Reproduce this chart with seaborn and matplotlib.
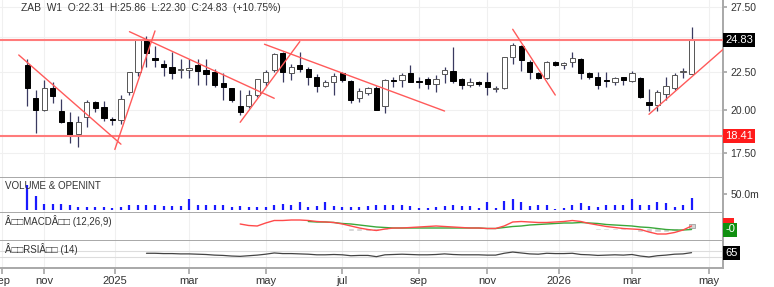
import numpy as np
import pandas as pd
import matplotlib
matplotlib.use("Agg")
import matplotlib.pyplot as plt
import matplotlib.dates as mdates
import matplotlib.ticker as mticker
import matplotlib.transforms as mtransforms
import seaborn as sns

sns.set_theme(style="white")
plt.rcParams['font.family'] = ['Liberation Sans', 'DejaVu Sans']

# ---------------- data ----------------
first_week = "2024-10-21"
opens = [22.96, 20.70, 19.97, 21.35, 19.91, 19.26, 18.55, 19.55, 20.49, 20.17,
         19.40, 19.36, 21.10, 22.50, 24.78, 23.45, 23.00, 22.83, 22.60, 22.60,
         22.96, 22.60, 22.50, 21.70, 21.36, 20.22, 20.22, 20.92, 21.78, 22.60,
         23.80, 22.40, 22.96, 22.70, 22.10, 21.50, 21.75, 22.38, 21.85, 20.72,
         21.05, 21.36, 20.22, 21.90, 21.92, 22.38, 21.88, 22.00, 21.65, 22.33,
         22.56, 22.00, 21.58, 21.75, 21.80, 21.30, 21.38, 23.50, 24.33, 23.20,
         22.40, 22.05, 23.20, 22.96, 23.20, 23.37, 22.38, 22.15, 21.90, 21.75,
         22.10, 21.85, 22.05, 20.50, 20.28, 21.00, 21.38, 22.45, 22.31]
highs = [23.39, 21.25, 21.92, 21.80, 20.64, 19.86, 19.60, 20.60, 20.54, 20.54,
         19.55, 20.92, 22.50, 24.85, 25.10, 24.35, 23.32, 23.90, 23.37, 23.40,
         23.37, 23.37, 22.65, 22.38, 21.40, 21.25, 21.25, 22.00, 22.60, 23.85,
         23.90, 23.05, 23.90, 22.80, 22.30, 21.95, 22.38, 22.50, 21.92, 21.40,
         21.48, 21.50, 21.97, 22.10, 22.38, 22.96, 22.15, 22.10, 22.26, 22.80,
         24.30, 22.05, 22.05, 21.85, 22.48, 21.50, 23.55, 24.55, 24.43, 23.32,
         22.45, 23.25, 23.25, 23.20, 23.90, 23.45, 22.50, 22.45, 22.50, 22.15,
         22.15, 22.55, 22.10, 21.30, 21.25, 22.10, 22.40, 22.75, 25.86]
lows = [20.22, 18.60, 19.90, 20.40, 19.20, 18.04, 17.80, 18.93, 19.86, 19.30,
        19.07, 19.13, 20.95, 22.20, 22.80, 22.80, 22.20, 21.99, 22.05, 22.05,
        21.58, 21.58, 21.48, 20.60, 20.50, 19.67, 20.10, 20.80, 21.50, 22.45,
        21.80, 21.92, 22.48, 21.58, 21.13, 21.45, 20.92, 21.80, 20.40, 20.50,
        20.92, 19.95, 19.78, 21.45, 21.45, 21.75, 21.36, 21.30, 21.13, 21.70,
        21.70, 21.30, 21.45, 21.50, 20.92, 21.13, 21.30, 23.00, 22.56, 21.97,
        21.97, 22.00, 22.90, 22.70, 22.80, 21.97, 21.97, 21.30, 21.48, 21.60,
        21.58, 21.75, 20.72, 19.93, 19.93, 20.60, 21.25, 22.05, 22.30]
closes = [21.38, 19.97, 21.40, 20.88, 19.26, 18.43, 19.26, 20.49, 20.07, 19.49,
          19.36, 20.66, 22.45, 24.78, 23.85, 23.32, 22.83, 22.40, 22.68, 22.78,
          22.56, 22.30, 21.58, 21.48, 20.57, 19.86, 20.90, 21.97, 22.50, 23.75,
          22.48, 22.80, 22.65, 22.15, 21.50, 21.80, 22.20, 21.92, 20.60, 21.20,
          21.35, 20.00, 21.92, 21.85, 22.26, 21.80, 21.75, 21.65, 22.00, 22.60,
          21.85, 21.58, 21.80, 21.65, 21.48, 21.36, 23.50, 24.43, 23.28, 22.48,
          22.05, 23.20, 22.96, 23.10, 23.45, 22.38, 22.15, 21.58, 21.85, 22.05,
          21.92, 22.38, 20.77, 20.28, 21.13, 21.50, 22.26, 22.52, 24.83]
volume_m = [78, 42, 18, 18, 19, 15, 10, 10, 10, 10,
            5, 10, 14, 16, 16, 16, 12, 12, 12, 33,
            16, 14, 14, 14, 10, 12, 8, 10, 10, 16,
            18, 14, 26, 10, 12, 24, 12, 10, 10, 10,
            12, 14, 16,
            16, 16, 12, 7, 5, 10, 12, 16, 12, 12,
            7, 26, 7, 29, 34, 26, 12, 14, 14, 4,
            6, 14, 21, 12, 10, 14, 14, 14, 34, 14,
            16, 26, 21, 10, 14, 37]
macd = [0.08, 0.05, 0.04, 0.10, 0.15, 0.15, 0.16, 0.16, 0.15, 0.13,
        0.12, 0.11, 0.08, 0.04, 0.00, -0.03, -0.05, -0.02, 0.00, 0.00,
        0.01, 0.02, 0.03, 0.04, 0.03, 0.02, 0.01, 0.00, 0.00, -0.01,
        -0.01, 0.04, 0.12, 0.13, 0.12, 0.11, 0.11, 0.12, 0.13, 0.15,
        0.13, 0.09, 0.06, 0.03, 0.01, -0.01, -0.02, -0.03, -0.08, -0.12,
        -0.12, -0.09, -0.04, 0.04]
macd_signal = [0.13, 0.12, 0.12, 0.11, 0.09, 0.08, 0.06, 0.04, 0.02, 0.01,
               0.00, 0.00, 0.00, 0.00, 0.00, 0.00, 0.00, 0.00, 0.00, 0.00,
               0.00, -0.01, -0.01, 0.01, 0.03, 0.04, 0.06, 0.07, 0.08, 0.09,
               0.10, 0.10, 0.11, 0.10, 0.09, 0.07, 0.06, 0.05, 0.04, 0.02,
               0.01, -0.01, -0.03, -0.04, -0.04, -0.03]
macd_hist = [0.00, -0.02, -0.02, -0.02, -0.02, -0.05, -0.05, -0.05, -0.05, -0.03,
             0, 0, 0, 0, 0, 0, 0, 0, 0, 0, 0, 0, 0,
             0.02, 0.02, 0.02, 0.02, 0.02, 0.02, 0.02, 0.02, 0.02, 0.02,
             0.00, -0.03, -0.03, -0.03, -0.03, -0.02,
             -0.07, -0.08, -0.08, -0.07, -0.05, -0.02, 0.09]
rsi = [63, 63, 62, 62, 61, 61, 60, 59, 57, 56,
       54, 53, 55, 57, 60, 64, 62, 62, 61, 60,
       58, 58, 59, 58, 55, 56, 56, 52, 58, 59,
       60, 59, 58, 58, 59, 61, 59, 58, 58, 58,
       57, 57, 63, 67, 64, 61, 60, 63, 62, 62,
       63, 59, 58, 56, 57, 58, 57, 59, 54, 51,
       55, 57, 60, 61, 65]
level_lines = [24.83, 18.41]
trend_lines = [
    ("2024-10-14", 23.68, "2025-01-06", 17.97),
    ("2025-01-01", 17.68, "2025-02-03", 25.51),
    ("2025-01-13", 25.45, "2025-05-12", 20.71),
    ("2025-04-14", 19.23, "2025-06-02", 24.68),
    ("2025-05-04", 24.48, "2025-09-29", 19.91),
    ("2025-11-24", 25.64, "2025-12-29", 20.92),
    ("2026-03-16", 19.71, "2026-05-16", 24.10),
]
price_ticks = [17.5, 20.0, 22.5, 27.5]
tick_dates = ["2024-09-30", "2024-11-04", "2025-01-01", "2025-03-03", "2025-05-05",
              "2025-07-07", "2025-09-08", "2025-11-03", "2026-01-01", "2026-03-02",
              "2026-05-04"]
tick_labels = ["sep", "nov", "2025", "mar", "may", "jul", "sep", "nov", "2026", "mar", "may"]
title_text = "ZAB  W1  O:22.31  H:25.86  L:22.30  C:24.83  (+10.75%)"

# ---------------- build ----------------
dates = pd.date_range(first_week, periods=len(opens), freq="7D")
xd = mdates.date2num(dates)
df = pd.DataFrame({"x": xd, "open": opens, "high": highs, "low": lows,
                   "close": closes, "vol": volume_m})

W, H = 774, 287
RIGHT = 723.3
def rect(top, bottom):
    return [0, 1 - bottom / H, RIGHT / W, (bottom - top) / H]

fig = plt.figure(figsize=(W / 100, H / 100), dpi=100)
ax_p = fig.add_axes(rect(0, 177.5))
ax_v = fig.add_axes(rect(177.5, 213.3), sharex=ax_p)
ax_m = fig.add_axes(rect(213.3, 241), sharex=ax_p)
ax_r = fig.add_axes(rect(241, 267.7), sharex=ax_p)

SPINE = "#a8a8a8"
TXT = "#333333"
GRID = "#f0f0f0"
WICK = "#3a3a60"

for ax in (ax_p, ax_v, ax_m, ax_r):
    ax.set_facecolor("white")
    for s in ("top", "left"):
        ax.spines[s].set_visible(False)
    for s in ("right", "bottom"):
        ax.spines[s].set_color(SPINE)
        ax.spines[s].set_linewidth(1.4)
    ax.yaxis.tick_right()
    ax.tick_params(axis="y", which="both", direction="out", length=3, color=SPINE,
                   labelsize=7.5, labelcolor=TXT, pad=2, left=False, labelleft=False,
                   right=True, labelright=True)
    ax.tick_params(axis="x", which="both", bottom=False, labelbottom=False)

xdates_ticks = mdates.date2num(pd.to_datetime(tick_dates))
x0 = xd[0] - 22.4
x1 = xd[0] + 572.1

# ---- price panel ----
ax_p.set_yscale("log")
ax_p.set_ylim(16.21, 28.07)
for p in price_ticks + [25.0]:
    ax_p.axhline(p, color=GRID, lw=0.8, zorder=0)

ax_p.vlines(df.x, df.low, df.high, color=WICK, lw=0.9, zorder=2)
up = df.close >= df.open
body_h = (df.close - df.open).abs().clip(lower=0.03)
ax_p.bar(df.x[up], body_h[up], bottom=df.open[up], width=4.3, color="white",
         edgecolor="#555555", linewidth=0.7, zorder=3)
ax_p.bar(df.x[~up], body_h[~up], bottom=df.close[~up], width=4.3, color="black",
         edgecolor="black", linewidth=0.7, zorder=3)

for lv in level_lines:
    ax_p.axhline(lv, color="#ff7b7b", lw=1.5, zorder=4)
for d0, p0, d1, p1 in trend_lines:
    sns.lineplot(x=mdates.date2num(pd.to_datetime([d0, d1])), y=[p0, p1], ax=ax_p,
                 color="#ff5a5a", lw=1.0, zorder=5)

ax_p.yaxis.set_major_locator(mticker.FixedLocator(price_ticks))
ax_p.yaxis.set_minor_locator(mticker.NullLocator())
ax_p.yaxis.set_major_formatter(mticker.FormatStrFormatter("%.2f"))
ax_p.text(20.7 / RIGHT, 1 - 8 / 177.5, title_text, transform=ax_p.transAxes,
          fontsize=7.4, color=TXT, ha="left", va="center")

def value_box(ax, y, text, fc, fs=8):
    tr = mtransforms.blended_transform_factory(ax.transAxes, ax.transData)
    ax.text(1.003, y, text, transform=tr, ha="left", va="center", fontsize=fs,
            color="white", clip_on=False, zorder=20,
            bbox=dict(boxstyle="square,pad=0.18", fc=fc, ec="none"))

value_box(ax_p, closes[-1], f"{closes[-1]:.2f}", "black")
value_box(ax_p, level_lines[1], f"{level_lines[1]:.2f}", "#ff1a1a")

# ---- volume panel ----
ax_v.set_ylim(-10.3, 100)
ax_v.vlines(df.x, 0, df.vol, color="#1a1aff", lw=1.6, zorder=3)
ax_v.yaxis.set_major_locator(mticker.FixedLocator([50]))
ax_v.yaxis.set_major_formatter(mticker.FuncFormatter(lambda v, p: f"{v:.1f}m"))
ax_v.text(5 / RIGHT, 0.77, "VOLUME & OPENINT", transform=ax_v.transAxes,
          fontsize=7, color=TXT, ha="left", va="center")

# ---- MACD panel ----
ax_m.set_ylim(-0.26, 0.294)
xh = xd[-len(macd_hist):]
ax_m.bar(xh[:-1], macd_hist[:-1], width=5.0, color="#cfcfcf", zorder=2)
ax_m.bar(xh[-1:], macd_hist[-1:], width=5.0, color="#d4d4d4", edgecolor="#aaaaaa",
         linewidth=0.7, zorder=2)
sns.lineplot(x=xd[-len(macd):], y=macd, ax=ax_m, color="#ff4a4a", lw=1.0, zorder=4)
sns.lineplot(x=xd[-len(macd_signal):], y=macd_signal, ax=ax_m, color="#3aa83a",
             lw=1.0, zorder=3)
ax_m.yaxis.set_major_locator(mticker.NullLocator())
ax_m.text(5 / RIGHT, 0.72, "Â\u25a1\u25a1MACDÂ\u25a1\u25a1 (12,26,9)",
          transform=ax_m.transAxes, fontsize=7, color=TXT, ha="left", va="center")
# MACD value box (hidden behind the signal box, as in the source)
value_box(ax_m, macd[-1] + 0.03, "  ", "#ff2020")
value_box(ax_m, macd_signal[-1], "-0", "#109010")

# ---- RSI panel ----
ax_r.set_ylim(16, 103)
for lv in (70, 50):
    ax_r.axhline(lv, color="#dddddd", lw=0.8, zorder=1)
sns.lineplot(x=xd[-len(rsi):], y=rsi, ax=ax_r, color="#444444", lw=0.9, zorder=3)
ax_r.yaxis.set_major_locator(mticker.NullLocator())
ax_r.text(5 / RIGHT, 0.70, "Â\u25a1\u25a1RSIÂ\u25a1\u25a1 (14)",
          transform=ax_r.transAxes, fontsize=7, color=TXT, ha="left", va="center")
value_box(ax_r, rsi[-1], f"{rsi[-1]}", "black")

for ax in (ax_p, ax_v, ax_m, ax_r):
    for t in xdates_ticks:
        ax.axvline(t, color=GRID, lw=0.8, zorder=0)
    ax.set_xlabel("")
    ax.set_ylabel("")
    leg = ax.get_legend()
    if leg is not None:
        leg.remove()

ax_r.set_xlim(x0, x1)
ax_r.xaxis.set_major_locator(mticker.FixedLocator(xdates_ticks))
ax_r.xaxis.set_major_formatter(mticker.FixedFormatter(tick_labels))
ax_r.tick_params(axis="x", bottom=True, labelbottom=True, direction="out", length=4,
                 color=SPINE, labelsize=8, labelcolor=TXT, pad=2)

fig.savefig("out.png", dpi=100, facecolor="white")
